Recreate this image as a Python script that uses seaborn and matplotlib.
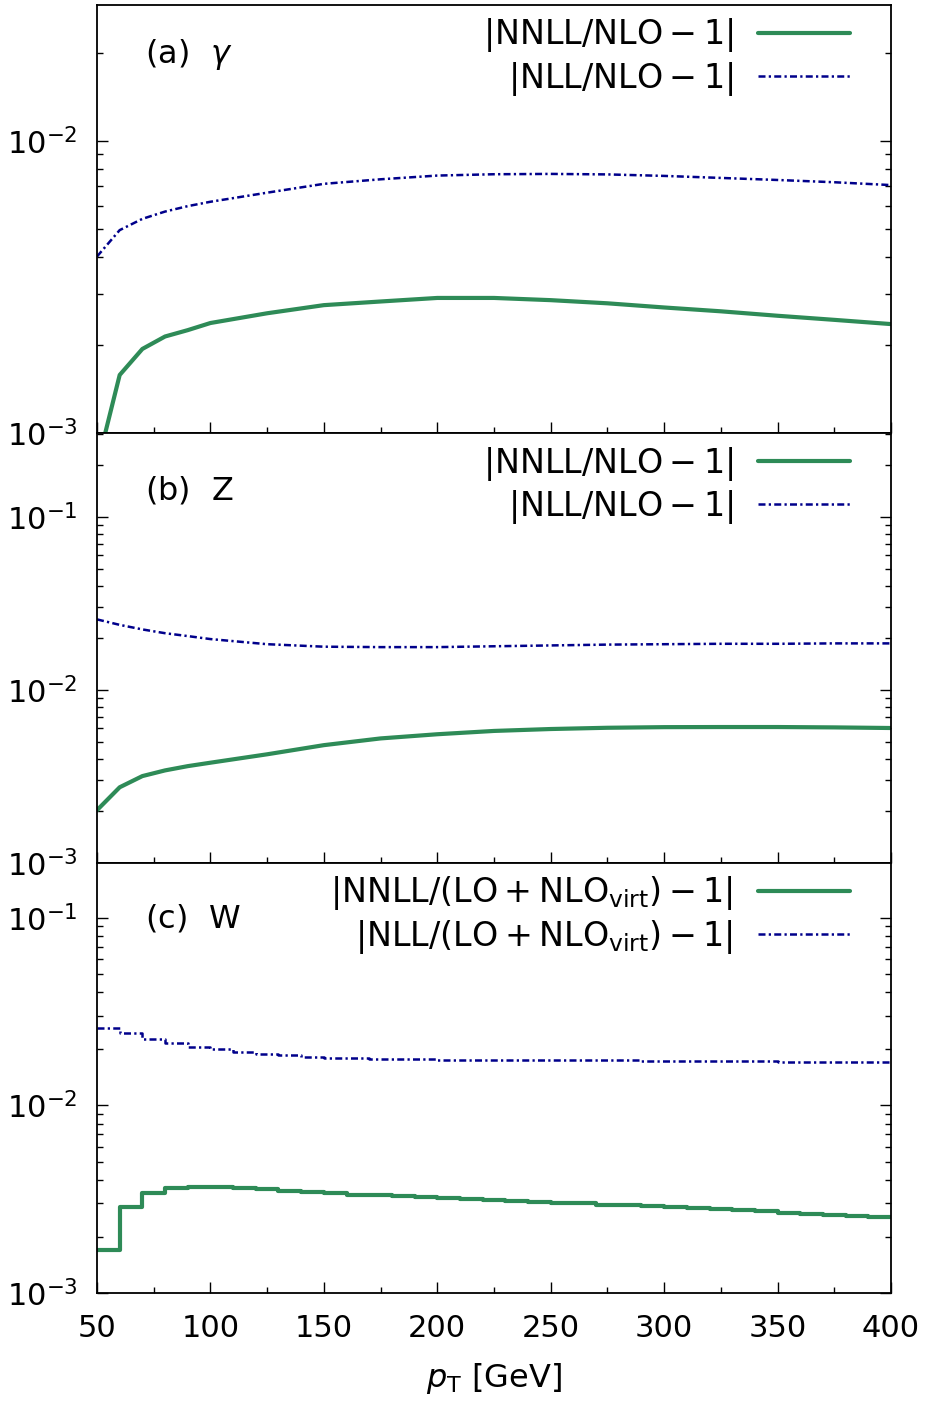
import numpy as np
import pandas as pd
import matplotlib
matplotlib.use("Agg")
import matplotlib.pyplot as plt
from matplotlib.ticker import MultipleLocator, LogLocator, NullFormatter
import seaborn as sns

# ---------------- data ----------------
# panel (a): photon
pt_a = [50, 60, 70, 80, 90, 100, 125, 150, 175, 200, 225, 250, 275, 300, 325, 350, 375, 400]
nnll_a = [7.7e-4, 1.58e-3, 1.94e-3, 2.14e-3, 2.25e-3, 2.38e-3, 2.57e-3, 2.74e-3, 2.82e-3,
          2.90e-3, 2.90e-3, 2.85e-3, 2.78e-3, 2.69e-3, 2.61e-3, 2.52e-3, 2.44e-3, 2.36e-3]
nll_a = [4.02e-3, 4.95e-3, 5.41e-3, 5.73e-3, 5.98e-3, 6.19e-3, 6.65e-3, 7.13e-3, 7.39e-3,
         7.61e-3, 7.69e-3, 7.71e-3, 7.68e-3, 7.59e-3, 7.47e-3, 7.35e-3, 7.22e-3, 7.06e-3]

# panel (b): Z
pt_b = [50, 60, 70, 80, 90, 100, 125, 150, 175, 200, 225, 250, 275, 300, 325, 350, 375, 400]
nnll_b = [2.02e-3, 2.74e-3, 3.18e-3, 3.43e-3, 3.63e-3, 3.80e-3, 4.25e-3, 4.80e-3, 5.25e-3,
          5.55e-3, 5.80e-3, 5.95e-3, 6.05e-3, 6.10e-3, 6.11e-3, 6.11e-3, 6.08e-3, 6.03e-3]
nll_b = [2.56e-2, 2.38e-2, 2.24e-2, 2.13e-2, 2.05e-2, 1.97e-2, 1.84e-2, 1.78e-2, 1.77e-2,
         1.77e-2, 1.79e-2, 1.81e-2, 1.83e-2, 1.84e-2, 1.85e-2, 1.85e-2, 1.86e-2, 1.86e-2]

# panel (c): W  (histogram, 10 GeV bins, lower edges)
bins_c = list(range(50, 400, 10))
nnll_c = [1.69e-3, 2.88e-3, 3.43e-3, 3.62e-3, 3.69e-3, 3.69e-3, 3.65e-3, 3.58e-3, 3.51e-3,
          3.45e-3, 3.40e-3, 3.35e-3, 3.31e-3, 3.27e-3, 3.23e-3, 3.19e-3, 3.16e-3, 3.12e-3,
          3.09e-3, 3.06e-3, 3.03e-3, 3.00e-3, 2.96e-3, 2.93e-3, 2.90e-3, 2.86e-3, 2.83e-3,
          2.79e-3, 2.76e-3, 2.72e-3, 2.68e-3, 2.65e-3, 2.61e-3, 2.57e-3, 2.53e-3]
nll_c = [2.60e-2, 2.43e-2, 2.27e-2, 2.16e-2, 2.06e-2, 1.99e-2, 1.93e-2, 1.88e-2, 1.85e-2,
         1.82e-2, 1.80e-2, 1.78e-2, 1.77e-2, 1.76e-2, 1.76e-2, 1.75e-2, 1.75e-2, 1.75e-2,
         1.75e-2, 1.75e-2, 1.74e-2, 1.74e-2, 1.74e-2, 1.74e-2, 1.73e-2, 1.73e-2, 1.73e-2,
         1.72e-2, 1.72e-2, 1.72e-2, 1.71e-2, 1.71e-2, 1.71e-2, 1.70e-2, 1.70e-2]
x_max = 400

panel_labels = [r"$(\mathrm{a})\ \ \gamma$", r"$(\mathrm{b})\ \ \mathrm{Z}$", r"$(\mathrm{c})\ \ \mathrm{W}$"]
leg_ab = [r"$|\mathrm{NNLL}/\mathrm{NLO}-1|$", r"$|\mathrm{NLL}/\mathrm{NLO}-1|$"]
leg_c = [r"$|\mathrm{NNLL}/(\mathrm{LO}+\mathrm{NLO}_{\mathrm{virt}})-1|$",
         r"$|\mathrm{NLL}/(\mathrm{LO}+\mathrm{NLO}_{\mathrm{virt}})-1|$"]
ylims = [(1e-3, 0.0292), (1e-3, 0.306), (1e-3, 0.196)]

# ---------------- style ----------------
sns.set_style("ticks")
plt.rcParams["font.family"] = ["DejaVu Sans"]
plt.rcParams["mathtext.fontset"] = "dejavusans"
plt.rcParams["axes.linewidth"] = 1.3
for k in ["text.color", "axes.labelcolor", "xtick.color", "ytick.color", "axes.edgecolor"]:
    plt.rcParams[k] = "black"

GREEN = "#2e8b57"
BLUE = "#00008b"
DASHDOT = (0, (2.8, 1.3, 0.9, 1.3))

fig = plt.figure(figsize=(9.26, 14.03), dpi=100)
W, H = 926.0, 1403.0
left, right = 97 / W, 891 / W
edges_px = [5, 433, 863, 1293]
axes = []
for i in range(3):
    top = 1 - edges_px[i] / H
    bot = 1 - edges_px[i + 1] / H
    axes.append(fig.add_axes([left, bot, right - left, top - bot]))

df_a = pd.DataFrame({"pt": pt_a, "nnll": nnll_a, "nll": nll_a})
df_b = pd.DataFrame({"pt": pt_b, "nnll": nnll_b, "nll": nll_b})
df_c = pd.DataFrame({"pt": bins_c + [x_max], "nnll": nnll_c + [nnll_c[-1]], "nll": nll_c + [nll_c[-1]]})

label_y = [1 - 50 / 428, 1 - 57 / 430, 1 - 55 / 430]
leg_y = [1 - 11.5 / 428, 1 - 11.5 / 430, 1 - 11.5 / 430]

datasets = [df_a, df_b, df_c]
for i, (ax, df) in enumerate(zip(axes, datasets)):
    extra = {"drawstyle": "steps-post"} if i == 2 else {}
    labels = leg_c if i == 2 else leg_ab
    sns.lineplot(data=df, x="pt", y="nnll", ax=ax, color=GREEN, lw=3.0,
                 label=labels[0], **extra)
    sns.lineplot(data=df, x="pt", y="nll", ax=ax, color=BLUE, lw=1.8,
                 linestyle=DASHDOT, label=labels[1], **extra)
    ax.set_yscale("log")
    ax.set_xlim(50, 400)
    ax.set_ylim(*ylims[i])
    ax.xaxis.set_major_locator(MultipleLocator(50))
    ax.xaxis.set_minor_locator(MultipleLocator(25))
    ax.yaxis.set_major_locator(LogLocator(base=10))
    ax.yaxis.set_minor_locator(LogLocator(base=10, subs=np.arange(2, 10)))
    ax.yaxis.set_minor_formatter(NullFormatter())
    ax.tick_params(which="both", direction="in", right=True, top=False, labelsize=22,
                   width=1.0, color="black")
    ax.tick_params(which="major", length=8)
    ax.tick_params(which="minor", length=4)
    ax.tick_params(axis="y", pad=14)
    ax.tick_params(axis="x", pad=15)
    ax.set_ylabel("")
    ax.set_xlabel("")
    if i < 2:
        ax.tick_params(axis="x", labelbottom=False)
    ax.legend(loc="upper right", frameon=False, markerfirst=False, fontsize=24,
              handlelength=2.75, handletextpad=0.75, labelspacing=0.15,
              borderpad=0.0, borderaxespad=0.0,
              bbox_to_anchor=((850 - 97) / 794, leg_y[i]))
    ax.text(0.06, label_y[i], panel_labels[i], transform=ax.transAxes, fontsize=23,
            ha="left", va="center")

axes[2].set_xlabel(r"$p_{\mathrm{T}}$ [GeV]", fontsize=23, labelpad=13)

fig.savefig("out.png", dpi=100)
